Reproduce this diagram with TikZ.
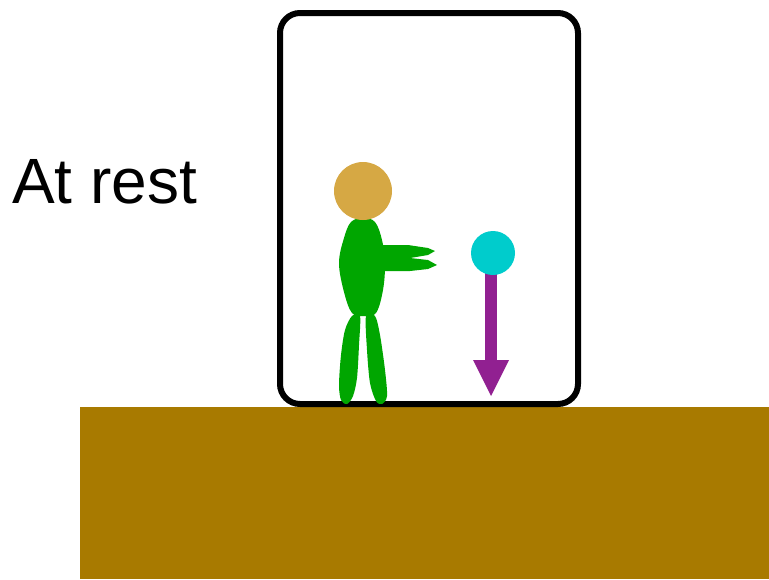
\documentclass[tikz,border=0pt]{standalone}
\usepackage{fontspec}
\setmainfont{Liberation Sans}
\begin{document}
\begin{tikzpicture}[x=1pt,y=-1pt,
  ground/.style={fill=groundbrown,draw=none},
  person/.style={fill=bodygreen,draw=none},
  cabin/.style={draw=black,line width=6pt,rounded corners=20pt}]
\definecolor{groundbrown}{RGB}{168,122,0}
\definecolor{bodygreen}{RGB}{0,166,0}
\definecolor{skin}{RGB}{214,168,68}
\definecolor{ballcyan}{RGB}{0,204,204}
\definecolor{weightpurple}{RGB}{145,32,145}
\useasboundingbox (0,0) rectangle (769,579);
% label
\node[anchor=base west,inner sep=0pt,font=\fontsize{64}{70}\selectfont] (label) at (12,203) {At rest};
% ground
\fill[ground] (80,407) rectangle (769,579);
% cabin
\draw[cabin] (280,404) rectangle (578,13);
% person: legs
\fill[person] plot[smooth cycle,tension=0.5] coordinates {(352,316) (360,316) (359,345) (357,378) (353,396) (347,404) (341,400) (339,385) (341,355) (345,330)};
\fill[person] plot[smooth cycle,tension=0.5] coordinates {(366,316) (375,316) (380,335) (385,370) (387,396) (382,404) (376,401) (370,383) (367,350)};
% person: torso
\fill[person] plot[smooth cycle,tension=0.6] coordinates {(363,218) (375,222) (382,240) (385,263) (383,290) (376,313) (364,316) (352,313) (344,292) (339,263) (344,238) (351,222)};
% person: arm with two fingers
\fill[person] (378,245) -- (408,245) -- (428,248) -- (435,251) -- (428,255) -- (410,258) -- (428,260) -- (437,265) -- (428,269) -- (410,271) -- (378,271) -- cycle;
% person: head
\fill[skin] (363,191) circle[radius=29];
% hanging ball and weight arrow
\fill[weightpurple] (485,268) rectangle (497,362);
\fill[weightpurple] (473,360) -- (509,360) -- (491,396) -- cycle;
\fill[ballcyan] (493,253) circle[radius=22];
\end{tikzpicture}
\end{document}
